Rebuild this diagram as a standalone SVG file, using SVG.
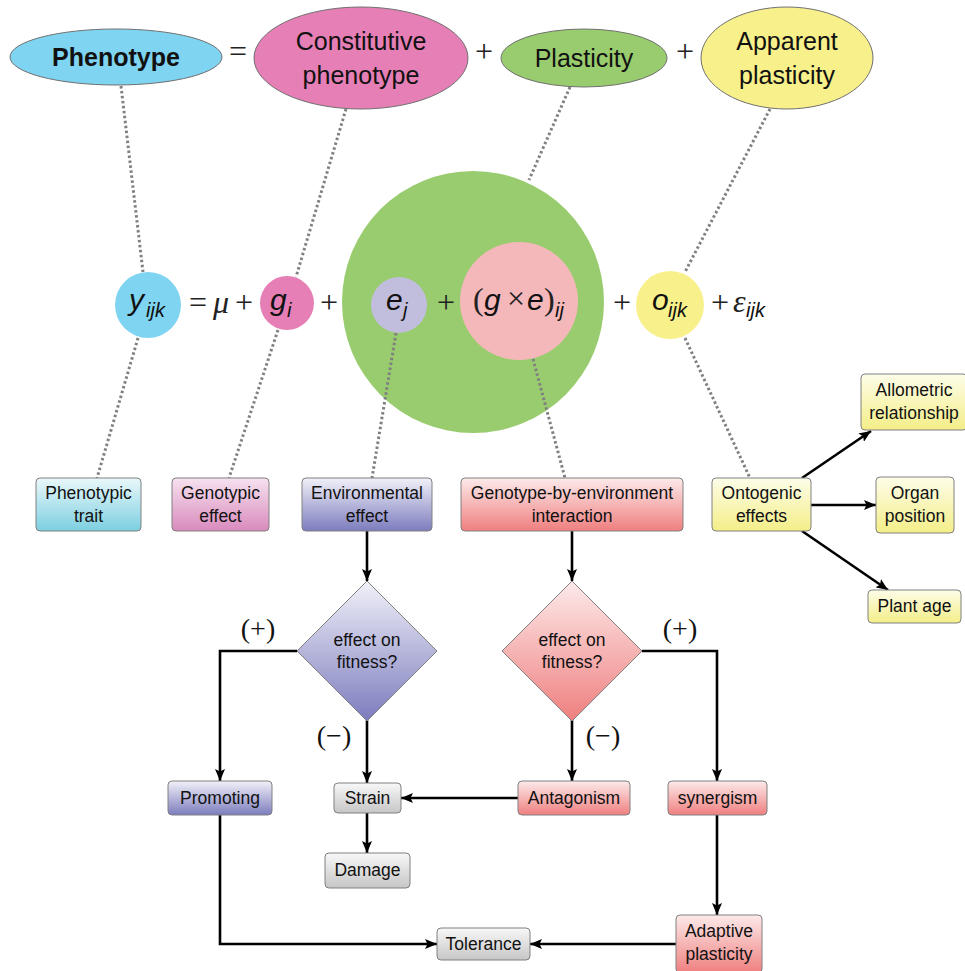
<svg xmlns="http://www.w3.org/2000/svg" width="965" height="971" viewBox="0 0 965 971">
<defs>
<linearGradient id="gCyan" x1="0" y1="0" x2="0" y2="1"><stop offset="0" stop-color="#eaf8fb"/><stop offset="1" stop-color="#7ccfe0"/></linearGradient>
<linearGradient id="gPink" x1="0" y1="0" x2="0" y2="1"><stop offset="0" stop-color="#f6e2ef"/><stop offset="1" stop-color="#d98abd"/></linearGradient>
<linearGradient id="gBlue" x1="0" y1="0" x2="0" y2="1"><stop offset="0" stop-color="#f1f1f9"/><stop offset="1" stop-color="#7c7cbe"/></linearGradient>
<linearGradient id="gRed" x1="0" y1="0" x2="0" y2="1"><stop offset="0" stop-color="#fdeaea"/><stop offset="1" stop-color="#ef7f7f"/></linearGradient>
<linearGradient id="gYel" x1="0" y1="0" x2="0" y2="1"><stop offset="0" stop-color="#fdfde9"/><stop offset="1" stop-color="#f4ee88"/></linearGradient>
<linearGradient id="gGray" x1="0" y1="0" x2="0" y2="1"><stop offset="0" stop-color="#f8f8f8"/><stop offset="1" stop-color="#c6c6c6"/></linearGradient>
<marker id="arr" markerUnits="userSpaceOnUse" markerWidth="13" markerHeight="10" refX="12" refY="5" orient="auto"><path d="M0,0 L12,5 L0,10 L2.5,5 z" fill="#000"/></marker>
<style>
.box{stroke:#808080;stroke-width:1}
.lbl{font-family:"Liberation Sans",Arial,sans-serif;font-size:17.5px;fill:#111;text-anchor:middle}
.big{font-family:"Liberation Sans",Arial,sans-serif;font-size:25px;fill:#111;text-anchor:middle}
.ell{stroke:#707070;stroke-width:1}
.dot{stroke:#808080;stroke-width:3;stroke-dasharray:2.5 2.5;fill:none}
.arrow{stroke:#000;stroke-width:2.6;fill:none;marker-end:url(#arr)}
.mv{font-family:"Liberation Sans",Arial,sans-serif;font-style:italic;font-size:30px;fill:#111}
.ms{font-family:"Liberation Sans",Arial,sans-serif;font-style:italic;font-size:20px;fill:#111}
.op{font-family:"Liberation Serif","Times New Roman",serif;font-size:32px;fill:#222}
.sg{font-family:"Liberation Serif","Times New Roman",serif;font-size:28px;fill:#111;text-anchor:middle}
</style>
</defs>
<rect width="965" height="971" fill="#fff"/>

<!-- top equation -->
<g id="phenotype"><ellipse class="ell" cx="116" cy="57" rx="106" ry="28" fill="#7fd4f2"/><text class="big" x="116" y="66" font-weight="bold" font-size="24">Phenotype</text></g>
<text class="op" x="238" y="62" text-anchor="middle" font-size="30">=</text>
<g id="constitutive"><ellipse class="ell" cx="361" cy="58" rx="107" ry="51" fill="#e67fb5"/><text class="big" x="361" y="50">Constitutive</text><text class="big" x="361" y="84">phenotype</text></g>
<text class="op" x="484" y="62" text-anchor="middle" font-size="30">+</text>
<g id="plasticity"><ellipse class="ell" cx="584" cy="58" rx="83" ry="29" fill="#99cc6e"/><text class="big" x="584" y="67">Plasticity</text></g>
<text class="op" x="685" y="62" text-anchor="middle" font-size="30">+</text>
<g id="apparent"><ellipse class="ell" cx="787" cy="58" rx="86" ry="51" fill="#f8f08a"/><text class="big" x="787" y="50">Apparent</text><text class="big" x="787" y="84">plasticity</text></g>

<!-- big plasticity circle -->
<g id="plasticity-circle"><circle cx="473" cy="302" r="131" fill="#99cc6e"/></g>

<!-- connectors -->
<g id="connectors">
<line class="dot" x1="121" y1="86" x2="143" y2="272"/>
<line class="dot" x1="346" y1="109" x2="296" y2="277"/>
<line class="dot" x1="570" y1="87" x2="529" y2="180"/>
<line class="dot" x1="770" y1="109" x2="685" y2="272"/>
<line class="dot" x1="138" y1="338" x2="97" y2="478"/>
<line class="dot" x1="278" y1="330" x2="229" y2="478"/>
<line class="dot" x1="396" y1="333" x2="372" y2="478"/>
<line class="dot" x1="533" y1="359" x2="565" y2="478"/>
<line class="dot" x1="685" y1="338" x2="750" y2="478"/>

<line class="arrow" x1="802" y1="478" x2="871" y2="431"/>
<line class="arrow" x1="811" y1="505" x2="876" y2="505"/>
<line class="arrow" x1="802" y1="531" x2="888" y2="590"/>

<line class="arrow" x1="367" y1="531" x2="367" y2="581"/>
<line class="arrow" x1="572" y1="531" x2="572" y2="581"/>

<polyline class="arrow" points="297,651 220,651 220,781"/>
<line class="arrow" x1="367" y1="720" x2="367" y2="783"/>
<line class="arrow" x1="572" y1="720" x2="572" y2="781"/>
<polyline class="arrow" points="642,651 717,651 717,781"/>

<line class="arrow" x1="518" y1="798" x2="401" y2="798"/>
<line class="arrow" x1="367" y1="813" x2="367" y2="853"/>
<polyline class="arrow" points="220,815 220,944 437,944"/>
<line class="arrow" x1="717" y1="815" x2="717" y2="915"/>
<line class="arrow" x1="676" y1="944" x2="530" y2="944"/>

<text class="sg" x="258" y="638">(+)</text>
<text class="sg" x="334" y="745">(−)</text>
<text class="sg" x="603" y="745">(−)</text>
<text class="sg" x="680" y="638">(+)</text>
</g>

<!-- model terms -->
<g id="y-ijk"><circle cx="148" cy="305" r="33" fill="#7fd4f2"/><text class="mv" x="129" y="310">y</text><text class="ms" x="146" y="317">ijk</text></g>
<text class="op" x="189" y="313">=</text>
<text class="op" x="213" y="313" font-style="italic" font-size="30">μ</text>
<text class="op" x="235" y="313">+</text>
<g id="g-i"><circle cx="287" cy="303" r="27" fill="#e67fb5"/><text class="mv" x="270" y="310">g</text><text class="ms" x="287" y="317">i</text></g>
<text class="op" x="320" y="313">+</text>
<g id="e-j"><circle cx="399" cy="305" r="28" fill="#c1bddc"/><text class="mv" x="386" y="310">e</text><text class="ms" x="403" y="317">j</text></g>
<text class="op" x="437" y="313">+</text>
<g id="gxe"><circle cx="519" cy="301" r="59" fill="#f5b8ba"/>
<text class="op" x="473" y="310" font-size="30">(</text>
<text class="mv" x="484" y="310">g</text>
<text class="op" x="507" y="309" font-size="26">×</text>
<text class="mv" x="527" y="310">e</text>
<text class="op" x="544" y="310" font-size="30">)</text>
<text class="ms" x="555" y="317">ij</text></g>
<text class="op" x="613" y="313">+</text>
<g id="o-ijk"><circle cx="670" cy="305" r="34" fill="#f8f08a"/><text class="mv" x="652" y="310">o</text><text class="ms" x="668" y="317">ijk</text></g>
<text class="op" x="711" y="313">+</text>
<text class="op" x="733" y="312" font-style="italic" font-size="30">ε</text>
<text class="ms" x="746" y="317">ijk</text>

<!-- boxes -->
<g id="phenotypic-trait"><rect class="box" x="36" y="478" width="105" height="53" rx="4" fill="url(#gCyan)"/><text class="lbl" x="88.5" y="499">Phenotypic</text><text class="lbl" x="88.5" y="522">trait</text></g>
<g id="genotypic-effect"><rect class="box" x="172" y="478" width="97" height="53" rx="4" fill="url(#gPink)"/><text class="lbl" x="220.5" y="499">Genotypic</text><text class="lbl" x="220.5" y="522">effect</text></g>
<g id="environmental-effect"><rect class="box" x="302" y="478" width="130" height="53" rx="4" fill="url(#gBlue)"/><text class="lbl" x="367" y="499">Environmental</text><text class="lbl" x="367" y="522">effect</text></g>
<g id="gxe-interaction"><rect class="box" x="461" y="478" width="222" height="53" rx="4" fill="url(#gRed)"/><text class="lbl" x="572" y="499">Genotype-by-environment</text><text class="lbl" x="572" y="522">interaction</text></g>
<g id="ontogenic-effects"><rect class="box" x="712" y="478" width="99" height="53" rx="4" fill="url(#gYel)"/><text class="lbl" x="761.5" y="499">Ontogenic</text><text class="lbl" x="761.5" y="522">effects</text></g>
<g id="allometric"><rect class="box" x="861" y="374" width="106" height="56" rx="4" fill="url(#gYel)"/><text class="lbl" x="914" y="396">Allometric</text><text class="lbl" x="914" y="419">relationship</text></g>
<g id="organ-position"><rect class="box" x="876" y="477" width="78" height="56" rx="4" fill="url(#gYel)"/><text class="lbl" x="915" y="499">Organ</text><text class="lbl" x="915" y="522">position</text></g>
<g id="plant-age"><rect class="box" x="868" y="590" width="93" height="33" rx="4" fill="url(#gYel)"/><text class="lbl" x="914.5" y="612">Plant age</text></g>

<g id="env-fitness"><polygon class="box" points="367,581 437,651 367,721 297,651" fill="url(#gBlue)"/><text class="lbl" x="367" y="646">effect on</text><text class="lbl" x="367" y="668">fitness?</text></g>
<g id="gxe-fitness"><polygon class="box" points="572,581 642,651 572,721 502,651" fill="url(#gRed)"/><text class="lbl" x="572" y="646">effect on</text><text class="lbl" x="572" y="668">fitness?</text></g>

<g id="promoting"><rect class="box" x="168" y="781" width="104" height="34" rx="4" fill="url(#gBlue)"/><text class="lbl" x="220" y="804">Promoting</text></g>
<g id="strain"><rect class="box" x="334" y="783" width="67" height="30" rx="4" fill="url(#gGray)"/><text class="lbl" x="367.5" y="804">Strain</text></g>
<g id="antagonism"><rect class="box" x="518" y="781" width="112" height="34" rx="4" fill="url(#gRed)"/><text class="lbl" x="574" y="804">Antagonism</text></g>
<g id="synergism"><rect class="box" x="668" y="781" width="99" height="34" rx="4" fill="url(#gRed)"/><text class="lbl" x="717.5" y="804">synergism</text></g>
<g id="damage"><rect class="box" x="325" y="853" width="85" height="35" rx="4" fill="url(#gGray)"/><text class="lbl" x="367.5" y="876">Damage</text></g>
<g id="tolerance"><rect class="box" x="437" y="928" width="93" height="32" rx="4" fill="url(#gGray)"/><text class="lbl" x="483.5" y="950">Tolerance</text></g>
<g id="adaptive-plasticity"><rect class="box" x="676" y="915" width="86" height="58" rx="4" fill="url(#gRed)"/><text class="lbl" x="719" y="937">Adaptive</text><text class="lbl" x="719" y="960">plasticity</text></g>
</svg>
